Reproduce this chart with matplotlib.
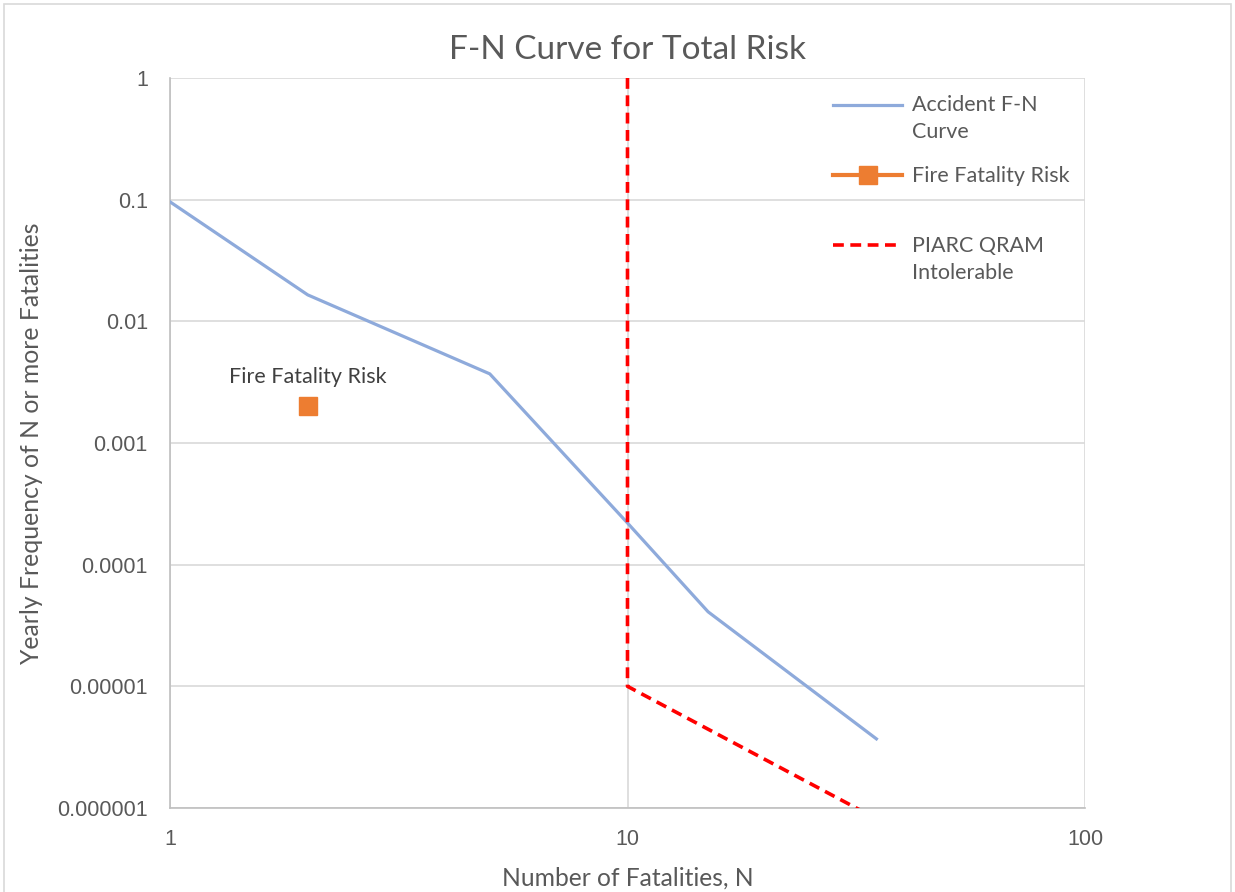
import matplotlib
matplotlib.use("Agg")
import matplotlib.pyplot as plt
from matplotlib.ticker import FixedLocator, FixedFormatter, NullLocator
from matplotlib.legend_handler import HandlerLine2D

plt.rcParams['font.family'] = ['Lato', 'DejaVu Sans']

# accident F-N curve
acc_n = [1, 2, 5, 10, 15, 35]
acc_f = [0.096, 0.0165, 0.0037, 0.00022, 0.000041, 0.0000037]

# fire fatality risk point
fire_n = [2]
fire_f = [0.002]

# PIARC QRAM intolerable line
piarc_n = [10, 10, 100]
piarc_f = [1, 0.00001, 0.0000001]

y_ticks = [1e-6, 1e-5, 1e-4, 1e-3, 1e-2, 1e-1, 1]
y_labels = ["0.000001", "0.00001", "0.0001", "0.001", "0.01", "0.1", "1"]
x_ticks = [1, 10, 100]
x_labels = ["1", "10", "100"]

grey = "#595959"


class TopLine(HandlerLine2D):
    """legend line lifted up to sit beside the first row of a two-row label"""
    def __init__(self, lift=0, **kw):
        super().__init__(**kw)
        self.lift = lift

    def create_artists(self, legend, orig_handle, xdescent, ydescent, width, height, fontsize, trans):
        return super().create_artists(legend, orig_handle, xdescent, ydescent - self.lift,
                                      width, height, fontsize, trans)


fig = plt.figure(figsize=(12.35, 8.92), dpi=100)
ax = fig.add_axes([170/1235, 1-808/892, 915/1235, 730/892])

acc, = ax.plot(acc_n, acc_f, color="#8eaadb", lw=2.3, label="Accident F-N\nCurve", zorder=3)
fire, = ax.plot(fire_n, fire_f, color="#ed7d31", lw=3, marker="s", ms=12.5,
                label="Fire Fatality Risk\n", zorder=4)
piarc, = ax.plot(piarc_n, piarc_f, color="#ff0000", lw=2.6, ls=(0, (3, 1.8)),
                 label="PIARC QRAM\nIntolerable", zorder=3)

ax.annotate("Fire Fatality Risk", (fire_n[0], fire_f[0]), xytext=(0, 17), textcoords="offset points",
            ha="center", va="baseline", fontsize=15.5, color="#404040")

ax.set_xscale("log")
ax.set_yscale("log")
ax.set_xlim(1, 100)
ax.set_ylim(1e-6, 1)
ax.xaxis.set_major_locator(FixedLocator(x_ticks))
ax.xaxis.set_major_formatter(FixedFormatter(x_labels))
ax.yaxis.set_major_locator(FixedLocator(y_ticks))
ax.yaxis.set_major_formatter(FixedFormatter(y_labels))
ax.xaxis.set_minor_locator(NullLocator())
ax.yaxis.set_minor_locator(NullLocator())

ax.grid(True, color="#d9d9d9", lw=1.2)
ax.set_axisbelow(True)
for side in ["top", "right"]:
    ax.spines[side].set_visible(False)
for side in ["left", "bottom"]:
    ax.spines[side].set_color("#bfbfbf")
    ax.spines[side].set_linewidth(1.2)
ax.tick_params(length=0, labelcolor=grey)
ax.tick_params(axis="y", pad=16)
ax.tick_params(axis="x", pad=15)
for lbl in ax.get_xticklabels() + ax.get_yticklabels():
    lbl.set_fontfamily(["Liberation Sans", "DejaVu Sans"])
    lbl.set_fontsize(15.5)

ax.set_title("F-N Curve for Total Risk", fontsize=24, color=grey, pad=14)
ax.set_xlabel("Number of Fatalities, N", fontsize=17.7, color=grey, labelpad=12)
ax.set_ylabel("Yearly Frequency of N or more Fatalities", fontsize=17.8, color=grey, labelpad=10)

leg = ax.legend(handles=[acc, fire, piarc], loc="upper left",
                bbox_to_anchor=(814/1235, 1-76/892), bbox_transform=fig.transFigure,
                frameon=False, fontsize=15.5, handlelength=3.2, handletextpad=0.45, labelspacing=1.1,
                labelcolor=grey,
                handler_map={acc: TopLine(lift=21), fire: TopLine(lift=21), piarc: TopLine(lift=21)})
for t in leg.get_texts():
    t.set_linespacing(1.42)

# outer chart border
fig.patches.append(plt.Rectangle((4/1235, -0.01), 1227/1235, 1-(-0.01)-4/892, transform=fig.transFigure,
                                 fill=False, edgecolor="#d9d9d9", lw=1.2))

fig.savefig("out.png", dpi=100)
